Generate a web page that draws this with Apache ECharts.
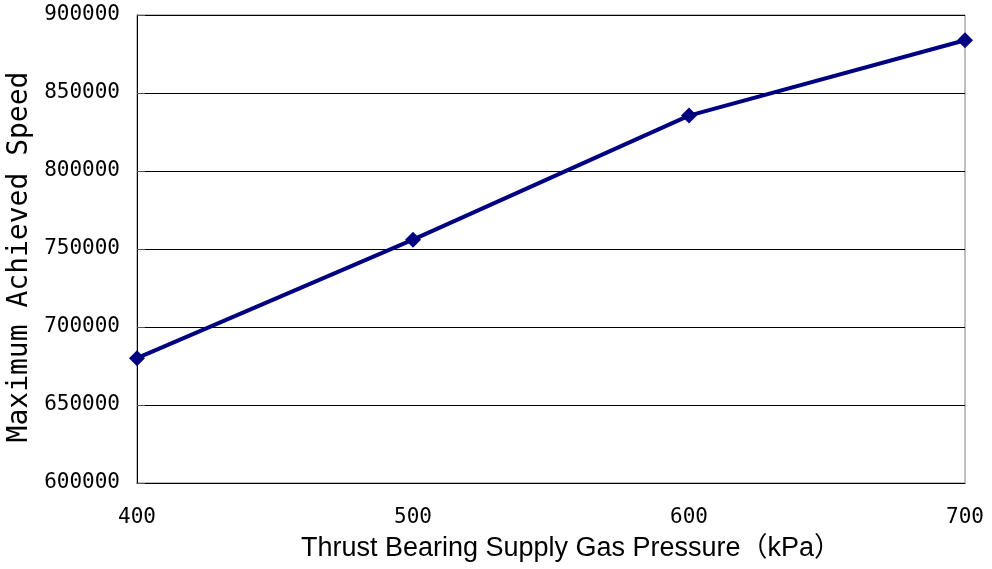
<!DOCTYPE html>
<html>
<head>
<meta charset="utf-8">
<script src="https://cdn.jsdelivr.net/npm/echarts@6/dist/echarts.min.js"></script>
<style>
  html, body { margin: 0; padding: 0; background: #fff; }
  #chart { width: 992px; height: 569px; }
</style>
</head>
<body>
<div id="chart"></div>
<script>
// values
const pressure = [400, 500, 600, 700];
const speed = [680000, 756000, 835500, 883800];
const xTicks = { min: 400, max: 700, step: 100 };
const yTicks = { min: 600000, max: 900000, step: 50000 };

const monoFont = "'DejaVu Sans Mono', 'Liberation Mono', monospace";

let chart = echarts.init(document.getElementById("chart"));
let option = {
  animation: false,
  grid: {
    left: 137,
    right: 27,
    top: 15,
    bottom: 86,
    containLabel: false,
    outerBoundsMode: "none",
    show: true,
    borderColor: "#808080",
    borderWidth: 1,
  },
  xAxis: {
    type: "value",
    min: xTicks.min,
    max: xTicks.max,
    interval: xTicks.step,
    name: "Thrust Bearing Supply Gas Pressure（kPa）",
    nameLocation: "middle",
    nameGap: 52,
    nameTextStyle: {
      fontSize: 27,
      color: "#000",
      padding: [0, 0, 0, 40],
      fontFamily: "'Liberation Sans', 'Noto Sans CJK JP', sans-serif",
    },
    axisLine: { show: true, lineStyle: { color: "#000", width: 1 } },
    axisTick: { show: false },
    splitLine: { show: false },
    axisLabel: {
      fontSize: 21,
      color: "#000",
      margin: 24,
      fontFamily: monoFont,
    },
  },
  yAxis: {
    type: "value",
    min: yTicks.min,
    max: yTicks.max,
    interval: yTicks.step,
    name: "Maximum Achieved Speed",
    nameLocation: "middle",
    nameGap: 99,
    nameTextStyle: {
      fontSize: 28,
      color: "#000",
      padding: [0, 16, 0, 0],
      fontFamily: monoFont,
    },
    axisLine: { show: true, lineStyle: { color: "#000", width: 1 } },
    axisTick: { show: true, inside: true, length: 8, lineStyle: { color: "#555" } },
    splitLine: { show: true, lineStyle: { color: "#000", width: 1 } },
    axisLabel: {
      fontSize: 21,
      color: "#000",
      margin: 17,
      fontFamily: monoFont,
      formatter: (v) => String(v),
    },
  },
  series: [
    {
      type: "line",
      data: pressure.map((p, i) => [p, speed[i]]),
      symbol: "diamond",
      symbolSize: 16,
      lineStyle: { color: "#000080", width: 4 },
      itemStyle: { color: "#000080" },
    },
  ],
};
chart.setOption(option);
</script>
</body>
</html>
